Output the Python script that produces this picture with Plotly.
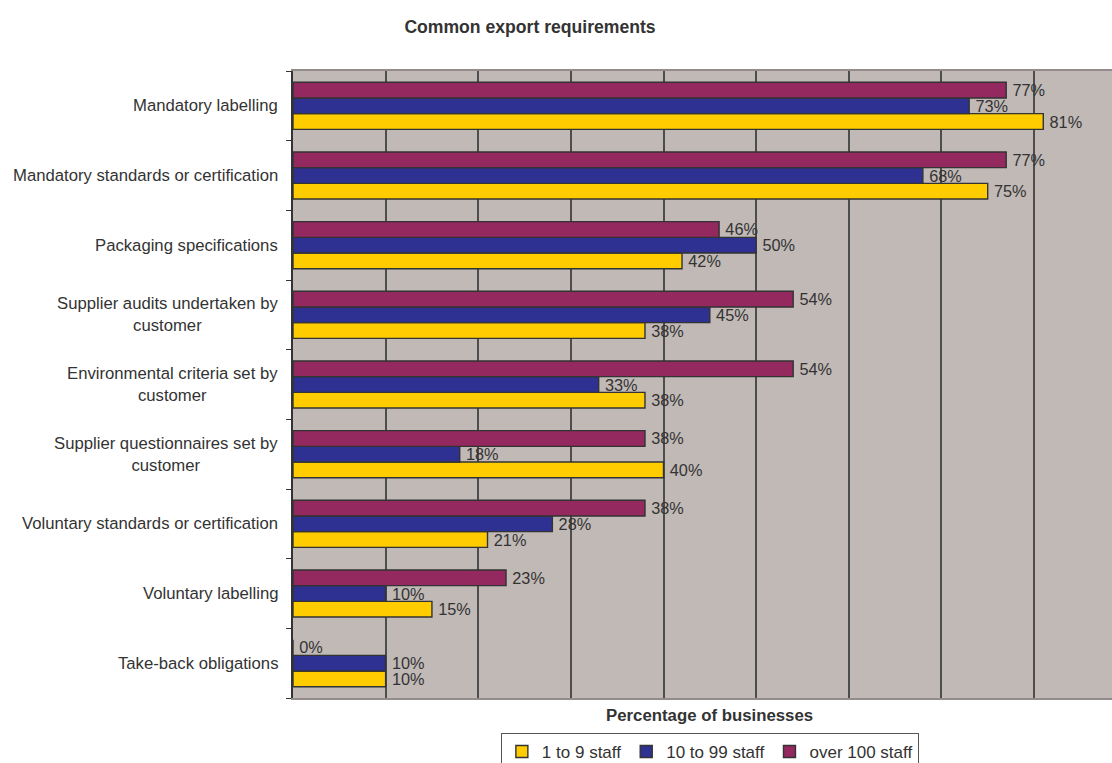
import plotly.graph_objects as go

# Requirement categories, top to bottom
categories = [
    "Mandatory labelling",
    "Mandatory standards or certification",
    "Packaging specifications",
    "Supplier audits undertaken by<br>customer",
    "Environmental criteria set by<br>customer",
    "Supplier questionnaires set by<br>customer",
    "Voluntary standards or certification",
    "Voluntary labelling",
    "Take-back obligations",
]

series_names = ["1 to 9 staff", "10 to 99 staff", "over 100 staff"]
staff_1_9 = [81, 75, 42, 38, 38, 40, 21, 15, 10]
staff_10_99 = [73, 68, 50, 45, 33, 18, 28, 10, 10]
staff_100_plus = [77, 77, 46, 54, 54, 38, 38, 23, 0]

colors = ["#FFCC00", "#2E3192", "#93295F"]
FONT = "Liberation Sans, Arial, sans-serif"
TEXT = "#333333"

# Bottom-to-top order so the first category sits at the top of the axis
cat_order = categories[::-1]

fig = go.Figure()
for name, vals, col in zip(series_names, [staff_1_9, staff_10_99, staff_100_plus], colors):
    fig.add_trace(go.Bar(
        name=name,
        y=categories,
        x=vals,
        orientation="h",
        marker=dict(color=col, line=dict(color="#333333", width=1.4)),
        texttemplate="\u2009%{x}%",
        textposition="outside",
        constraintext="none",
        cliponaxis=False,
        textfont=dict(family=FONT, size=16.3, color=TEXT),
    ))

# Category labels: right-anchored, multi-line text centred
for cat in categories:
    fig.add_annotation(
        text=cat, xref="paper", yref="y", x=0, y=cat,
        xanchor="right", yanchor="middle", align="center", xshift=-13,
        showarrow=False, font=dict(family=FONT, size=16.7, color=TEXT),
    )

# Axis title
fig.add_annotation(
    text="<b>Percentage of businesses</b>", xref="paper", yref="paper",
    x=0.509, y=0, yshift=-17, xanchor="center", yanchor="middle",
    showarrow=False, font=dict(family=FONT, size=16.8, color=TEXT),
)

fig.update_layout(
    width=1112, height=763,
    margin=dict(l=293, r=0, t=71, b=65, autoexpand=False),
    paper_bgcolor="white",
    plot_bgcolor="#C1B9B6",
    barmode="group",
    bargap=0.325,
    bargroupgap=0,
    font=dict(family=FONT, color=TEXT),
    title=dict(
        text="<b>Common export requirements</b>",
        xref="container", yref="container",
        x=530 / 1112, y=1 - 27 / 763, xanchor="center", yanchor="middle",
        font=dict(family=FONT, size=17.6, color=TEXT),
    ),
    legend=dict(
        orientation="h", x=0.509, xanchor="center", y=-35 / 627, yanchor="top",
        bordercolor="#555555", borderwidth=1, bgcolor="white",
        font=dict(family=FONT, size=17, color=TEXT),
        traceorder="normal", itemwidth=30,
    ),
    xaxis=dict(
        range=[0, 88.42], dtick=10, showticklabels=False, ticks="",
        showgrid=True, gridcolor="#4D4D4D", gridwidth=1.5,
        zeroline=False, showline=True, linecolor="#948C8C", linewidth=1.5,
        mirror=True,
    ),
    yaxis=dict(
        categoryorder="array", categoryarray=cat_order,
        showticklabels=False, ticks="outside", ticklen=5, tickcolor="#333333",
        tickson="boundaries", showgrid=False, zeroline=False,
        showline=True, linecolor="#333333", linewidth=1.5,
    ),
)

fig.write_html("out.html")
